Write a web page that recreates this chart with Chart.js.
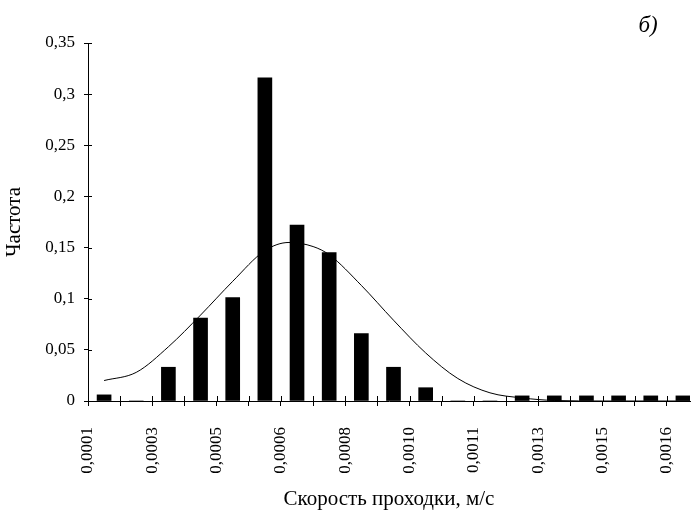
<!DOCTYPE html>
<html>
<head>
<meta charset="utf-8">
<script src="https://cdn.jsdelivr.net/npm/chart.js@4"></script>
<style>
  html, body { margin: 0; padding: 0; background: #fff; }
  #wrap { width: 691px; height: 518px; }
</style>
</head>
<body>
<div id="wrap"><canvas id="chart" width="691" height="518"></canvas></div>
<script>
// подписи оси X (ставятся на каждой второй границе интервала)
const tickLabels = ["0,0001", "0,0003", "0,0005", "0,0006", "0,0008", "0,0010", "0,0011", "0,0013", "0,0015", "0,0016"];
const yTickLabels = ["0", "0,05", "0,1", "0,15", "0,2", "0,25", "0,3", "0,35"];

// номер интервала (центр столбца = bin + 0.5) и частота
const bins = [0, 1, 2, 3, 4, 5, 6, 7, 8, 9, 10, 11, 12, 13, 14, 15, 16, 17, 18];
const freq = [0.006, 0, 0.033, 0.081, 0.101, 0.316, 0.172, 0.145, 0.066, 0.033, 0.013, 0, 0, 0.005, 0.005, 0.005, 0.005, 0.005, 0.005];

// теоретическая кривая
const curveX = [0.5, 1.5, 2.5, 3.5, 4.5, 5.5, 6.25, 7.0, 7.5, 8.5, 9.5, 10.5, 11.5, 12.5, 13.5, 14.5, 16, 18.72];
const curveY = [0.020, 0.028, 0.053, 0.084, 0.117, 0.147, 0.155, 0.151, 0.143, 0.113, 0.079, 0.047, 0.022, 0.008, 0.003, 0.0005, 0, 0];

const X_MAX = 18.72;
const serif = "'Liberation Serif', 'Times New Roman', serif";

// засечки, пересекающие оси
const crossTicks = {
  id: "crossTicks",
  afterDraw(chart) {
    const { ctx, scales: { x, y } } = chart;
    ctx.save();
    ctx.strokeStyle = "#000";
    ctx.lineWidth = 1;
    ctx.beginPath();
    for (let i = 0; i <= 18; i++) {
      const px = Math.round(x.getPixelForValue(i)) + 0.5;
      ctx.moveTo(px, y.bottom);
      ctx.lineTo(px, y.bottom - 5);
    }
    for (let v = 0; v <= 7; v++) {
      const py = Math.round(y.getPixelForValue(v * 0.05)) + 0.5;
      ctx.moveTo(x.left, py);
      ctx.lineTo(x.left + 4, py);
    }
    ctx.stroke();
    ctx.restore();
  }
};

const panelMark = {
  id: "panelMark",
  afterDraw(chart) {
    const ctx = chart.ctx;
    ctx.save();
    ctx.fillStyle = "#000";
    ctx.font = "italic 23px " + serif;
    ctx.textAlign = "center";
    ctx.textBaseline = "middle";
    ctx.fillText("б)", 648, 26);
    ctx.restore();
  }
};

new Chart(document.getElementById("chart"), {
  type: "bar",
  data: {
    datasets: [
      {
        type: "line",
        data: curveX.map((v, i) => ({ x: v, y: curveY[i] })),
        borderColor: "#000",
        borderWidth: 1,
        pointRadius: 0,
        cubicInterpolationMode: "monotone",
        fill: false,
        order: 0,
      },
      {
        data: bins.map((b, i) => ({ x: b + 0.5, y: freq[i] })),
        backgroundColor: "#000",
        borderWidth: 0,
        barThickness: 14,
        order: 1,
      },
    ],
  },
  options: {
    responsive: false,
    animation: false,
    layout: { padding: { top: 43, right: 1, bottom: 0, left: 0 } },
    plugins: { legend: { display: false }, tooltip: { enabled: false } },
    scales: {
      x: {
        type: "linear",
        min: 0,
        max: X_MAX,
        offset: false,
        afterFit: (s) => { s.height = 117; s.paddingRight = 0; s.paddingLeft = 0; },
        border: { color: "#000", width: 1 },
        grid: { offset: false, drawOnChartArea: false, color: "#000", tickLength: 5 },
        ticks: {
          stepSize: 1,
          includeBounds: false,
          autoSkip: false,
          minRotation: 90,
          maxRotation: 90,
          padding: 21,
          color: "#000",
          font: { family: serif, size: 17 },
          callback: (v) => (v % 2 === 0 ? tickLabels[v / 2] : ""),
        },
        title: {
          display: true,
          text: "Скорость проходки, м/с",
          color: "#000",
          font: { family: serif, size: 21 },
          padding: { top: 4, bottom: 6 },
        },
      },
      y: {
        min: 0,
        max: 0.35,
        afterFit: (s) => { s.width = 88; },
        border: { color: "#000", width: 1 },
        grid: { drawOnChartArea: false, color: "#000", tickLength: 4 },
        ticks: {
          stepSize: 0.05,
          padding: 9,
          color: "#000",
          font: { family: serif, size: 17 },
          callback: (v, i) => yTickLabels[i],
        },
        title: {
          display: true,
          text: "Частота",
          color: "#000",
          font: { family: serif, size: 21 },
          padding: { top: 2, bottom: 2 },
        },
      },
    },
  },
  plugins: [crossTicks, panelMark],
});
</script>
</body>
</html>
